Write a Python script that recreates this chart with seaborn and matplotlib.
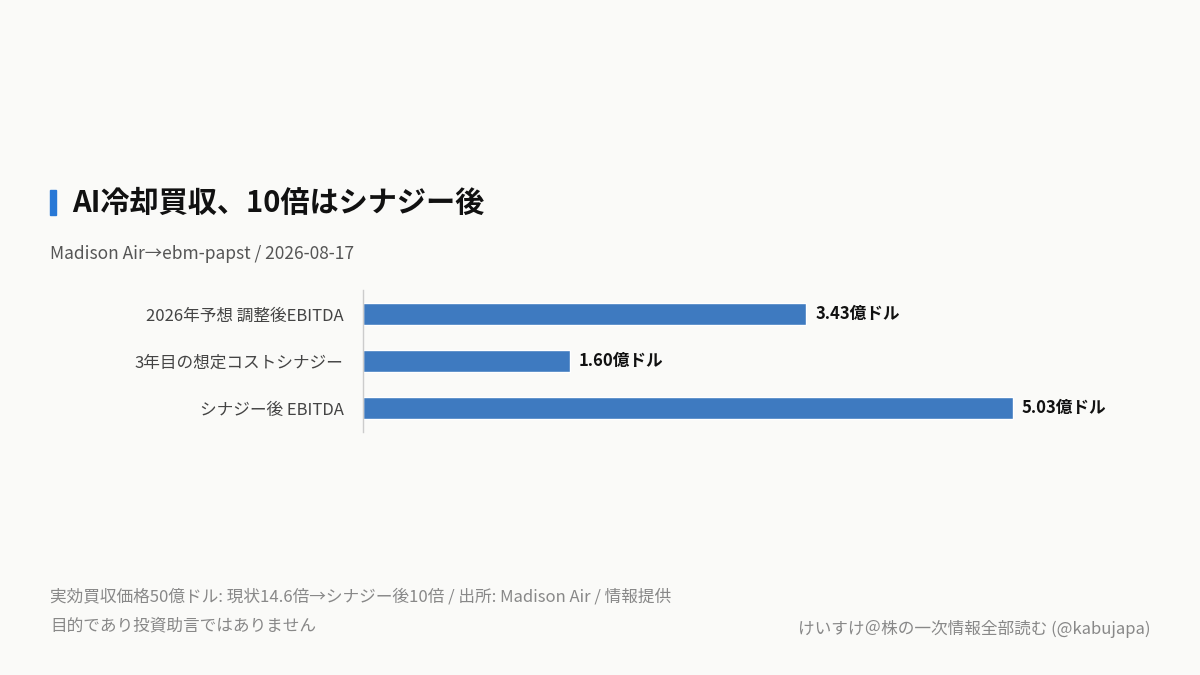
import matplotlib
matplotlib.use('Agg')
import matplotlib.pyplot as plt
import seaborn as sns
import pandas as pd

categories = ['2026年予想 調整後EBITDA', '3年目の想定コストシナジー', 'シナジー後 EBITDA']
values = [3.43, 1.60, 5.03]
value_labels = ['3.43億ドル', '1.60億ドル', '5.03億ドル']

sns.set_style('white')
plt.rcParams['font.family'] = ['Noto Sans CJK JP', 'DejaVu Sans']

bg = '#FAFAF8'
blue = '#2878D6'
fig = plt.figure(figsize=(12, 6.75), dpi=100, facecolor=bg)
ax = fig.add_axes([0.3025, 0.36, 0.6175, 0.21])
ax.set_facecolor(bg)

df = pd.DataFrame({'cat': categories, 'val': values})
sns.barplot(data=df, x='val', y='cat', color=blue, width=0.47, ax=ax, orient='h')
for i, (v, t) in enumerate(zip(values, value_labels)):
    ax.text(v + 0.07, i, t, va='center', ha='left', fontsize=12, fontweight='bold', color='#111111')

ax.set_xlim(0, 5.735)
ax.set_ylim(2.5, -0.5)
ax.set_xlabel('')
ax.set_ylabel('')
ax.set_xticks([])
ax.tick_params(axis='y', length=0, labelsize=12, labelcolor='#444444', pad=14)
for s in ['top', 'right', 'bottom']:
    ax.spines[s].set_visible(False)
ax.spines['left'].set_color('#CCCCCC')
ax.spines['left'].set_linewidth(1)

fig.patches.append(plt.Rectangle((50 / 1200, 1 - 215 / 675), 6 / 1200, 25 / 675,
                                 transform=fig.transFigure, color=blue))
fig.text(72 / 1200, 1 - 203 / 675, 'AI冷却買収、10倍はシナジー後', fontsize=21,
         fontweight='bold', color='#111111', va='center')
fig.text(50 / 1200, 1 - 254 / 675, 'Madison Air→ebm-papst / 2026-08-17', fontsize=12.5,
         color='#555555', va='center')
fig.text(50 / 1200, 1 - 597 / 675, '実効買収価格50億ドル: 現状14.6倍→シナジー後10倍 / 出所: Madison Air / 情報提供',
         fontsize=12, color='#888888', va='center')
fig.text(50 / 1200, 1 - 626 / 675, '目的であり投資助言ではありません',
         fontsize=12, color='#888888', va='center')
fig.text(1150 / 1200, 1 - 629 / 675, 'けいすけ＠株の一次情報全部読む (@kabujapa)',
         fontsize=12, color='#888888', va='center', ha='right')

fig.savefig('out.png', dpi=100, facecolor=bg)
